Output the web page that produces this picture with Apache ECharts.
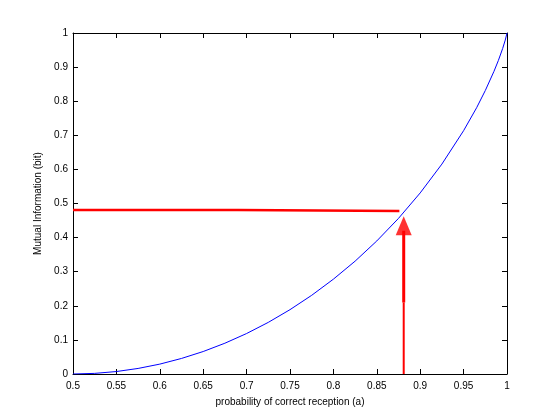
<!DOCTYPE html>
<html>
<head>
<meta charset="utf-8">
<script src="https://cdn.jsdelivr.net/npm/echarts@6/dist/echarts.min.js"></script>
<style>
  html, body { margin: 0; padding: 0; background: #fff; }
  #chart { width: 560px; height: 420px; }
</style>
</head>
<body>
<div id="chart"></div>
<script>
// probability of correct reception (a) and mutual information
const probA = [0.5, 0.525, 0.55, 0.575, 0.6, 0.625, 0.65, 0.675, 0.7, 0.725, 0.75, 0.775,
  0.8, 0.825, 0.85, 0.875, 0.9, 0.925, 0.95, 0.965, 0.975, 0.985, 0.99, 0.995, 0.998, 1];
const mutualInfo = [0, 0.0018, 0.0072, 0.0163, 0.029, 0.0456, 0.0659, 0.0903, 0.1187, 0.1514,
  0.1887, 0.2308, 0.2781, 0.3309, 0.3902, 0.4564, 0.531, 0.6156, 0.7136, 0.7808, 0.8313,
  0.8876, 0.919, 0.9546, 0.9792, 1];

// red horizontal read-off line (two slightly offset pieces)
const hLineX = [0.5, 0.69, 0.69, 0.876];
const hLineY = [0.481, 0.481, 0.478, 0.478];

// red arrow at a = 0.881
const arrowX = 0.881;
const arrowShaftY = [0, 0.21, 0.42];
const arrowHeadY = 0.435;

const xTicks = { min: 0.5, max: 1, step: 0.05 };
const yTicks = { min: 0, max: 1, step: 0.1 };

const font = "'Liberation Sans', Arial, Helvetica, sans-serif";

const chart = echarts.init(document.getElementById("chart"));

function zip(xs, ys) {
  return xs.map((x, i) => [x, ys[i]]);
}

const axisLine = { show: true, onZero: false, lineStyle: { color: "#000", width: 1 } };
const axisTick = { show: true, inside: true, length: 5, lineStyle: { color: "#000" } };

const option = {
  animation: false,
  backgroundColor: "#fff",
  grid: { left: 73, right: 53, top: 33, bottom: 46, containLabel: false },
  xAxis: [
    {
      type: "value",
      min: xTicks.min,
      max: xTicks.max,
      interval: xTicks.step,
      position: "bottom",
      name: "probability of correct reception (a)",
      nameLocation: "middle",
      nameGap: 23,
      nameTextStyle: { color: "#000", fontSize: 10, fontFamily: font },
      axisLine: axisLine,
      axisTick: axisTick,
      axisLabel: { color: "#000", fontSize: 10, fontFamily: font, margin: 7 },
      splitLine: { show: false }
    },
    {
      type: "value",
      min: xTicks.min,
      max: xTicks.max,
      interval: xTicks.step,
      position: "top",
      axisLine: axisLine,
      axisTick: axisTick,
      axisLabel: { show: false },
      splitLine: { show: false }
    }
  ],
  yAxis: [
    {
      type: "value",
      min: yTicks.min,
      max: yTicks.max,
      interval: yTicks.step,
      position: "left",
      name: "Mutual Information (bit)",
      nameLocation: "middle",
      nameGap: 28,
      nameTextStyle: { color: "#000", fontSize: 10, fontFamily: font },
      axisLine: axisLine,
      axisTick: axisTick,
      axisLabel: { color: "#000", fontSize: 10, fontFamily: font, margin: 5 },
      splitLine: { show: false }
    },
    {
      type: "value",
      min: yTicks.min,
      max: yTicks.max,
      interval: yTicks.step,
      position: "right",
      axisLine: axisLine,
      axisTick: axisTick,
      axisLabel: { show: false },
      splitLine: { show: false }
    }
  ],
  series: [
    {
      type: "line",
      data: zip(probA, mutualInfo),
      smooth: false,
      showSymbol: false,
      lineStyle: { color: "#0000ff", width: 1 },
      z: 3
    },
    {
      type: "line",
      data: zip(hLineX, hLineY),
      showSymbol: false,
      lineStyle: { color: "#ff0000", width: 2.5 },
      z: 4
    },
    {
      type: "line",
      data: [[arrowX, arrowShaftY[0]], [arrowX, arrowShaftY[1]]],
      showSymbol: false,
      lineStyle: { color: "#ff0000", width: 2 },
      z: 4
    },
    {
      type: "line",
      data: [[arrowX, arrowShaftY[1]], [arrowX, arrowShaftY[2]]],
      showSymbol: false,
      lineStyle: { color: "#ff0000", width: 3 },
      z: 4
    },
    {
      type: "scatter",
      data: [[arrowX, arrowHeadY]],
      symbol: "triangle",
      symbolSize: [16, 19],
      itemStyle: { color: "#ff0000" },
      z: 5
    }
  ]
};

chart.setOption(option);
</script>
</body>
</html>
